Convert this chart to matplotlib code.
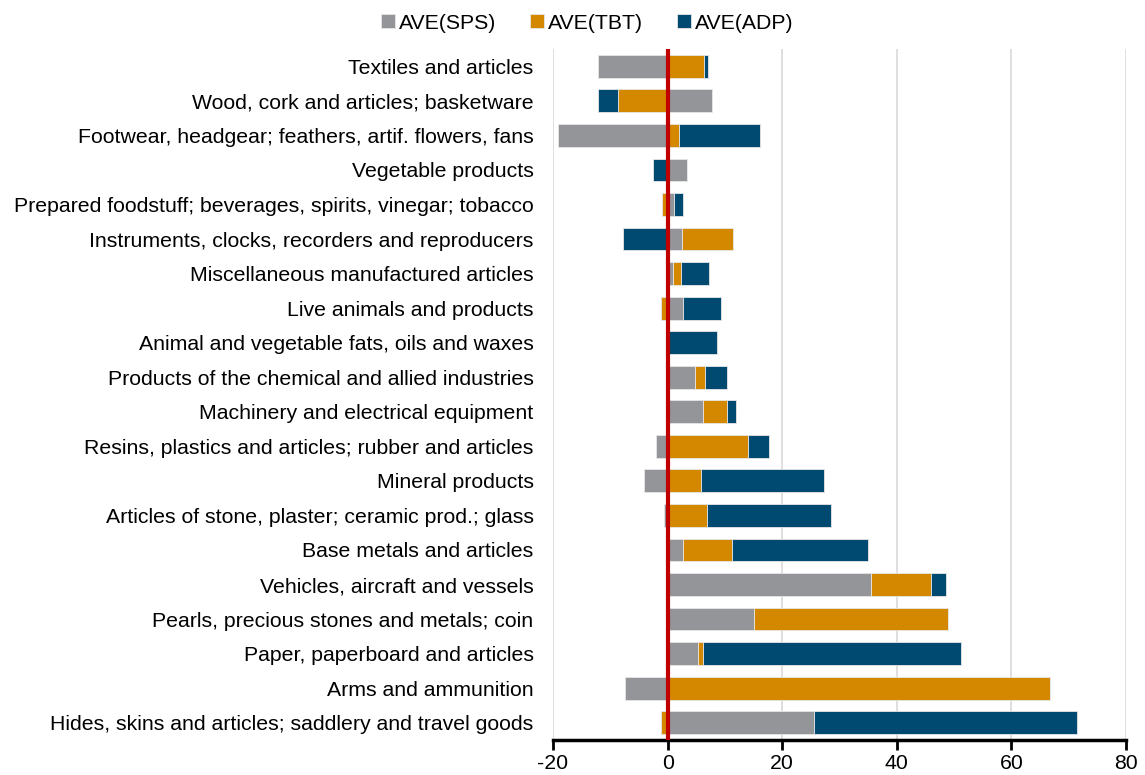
import numpy as np
import matplotlib.pyplot as plt

plt.rcParams['font.family'] = ['Liberation Sans', 'DejaVu Sans']
plt.rcParams['axes.unicode_minus'] = False

categories = [
    'Textiles and articles',
    'Wood, cork and articles; basketware',
    'Footwear, headgear; feathers, artif. flowers, fans',
    'Vegetable products',
    'Prepared foodstuff; beverages, spirits, vinegar; tobacco',
    'Instruments, clocks, recorders and reproducers',
    'Miscellaneous manufactured articles',
    'Live animals and products',
    'Animal and vegetable fats, oils and waxes',
    'Products of the chemical and allied industries',
    'Machinery and electrical equipment',
    'Resins, plastics and articles; rubber and articles',
    'Mineral products',
    'Articles of stone, plaster; ceramic prod.; glass',
    'Base metals and articles',
    'Vehicles, aircraft and vessels',
    'Pearls, precious stones and metals; coin',
    'Paper, paperboard and articles',
    'Arms and ammunition',
    'Hides, skins and articles; saddlery and travel goods',
]

sps = [-12.1, 7.8, -19.1, 3.3, 1.1, 2.6, 1.0, 2.7, 0.0, 4.8,
       6.2, -2.0, -4.1, -0.6, 2.7, 35.5, 15.0, 5.3, -7.5, 25.5]
tbt = [6.4, -8.6, 2.0, 0.0, -0.9, 8.8, 1.4, -1.1, 0.0, 1.7,
       4.2, 14.0, 5.9, 6.8, 8.5, 10.4, 34.0, 0.8, 66.7, -1.2]
adp = [0.7, -3.6, 14.2, -2.6, 1.6, -7.8, 4.9, 6.7, 8.7, 3.8,
       1.5, 3.7, 21.4, 21.8, 23.8, 2.6, 0.0, 45.1, 0.0, 45.9]

series = [('AVE(SPS)', sps, '#939598'),
          ('AVE(TBT)', tbt, '#D48800'),
          ('AVE(ADP)', adp, '#004A71')]

fig = plt.figure(figsize=(11.45, 7.75), dpi=100)
ax = fig.add_axes([553 / 1145, 35 / 775, 573 / 1145, 691 / 775])

y = np.arange(len(categories))
pos_base = np.zeros(len(categories))
neg_base = np.zeros(len(categories))
for name, vals, col in series:
    v = np.array(vals)
    left = np.where(v >= 0, pos_base, neg_base)
    ax.barh(y, v, left=left, height=0.66, color=col, edgecolor='#e6e6e6',
            linewidth=0.6, label=name, zorder=2)
    pos_base = pos_base + np.where(v >= 0, v, 0)
    neg_base = neg_base + np.where(v < 0, v, 0)

ax.axvline(0, color='#C00000', linewidth=3, zorder=3)

ax.set_xlim(-20, 80)
ax.set_xticks([-20, 0, 20, 40, 60, 80])
ax.set_ylim(len(categories) - 0.5, -0.5)
ax.set_yticks(y)
ax.set_yticklabels(categories, fontsize=15.3)
ax.tick_params(axis='y', length=0, pad=14)
ax.tick_params(axis='x', labelsize=15.3, length=7, width=2, direction='out', color='black', pad=3)
ax.grid(axis='x', color='#d9d9d9', linewidth=1.2, zorder=0)
ax.set_axisbelow(True)
for s in ['top', 'right', 'left']:
    ax.spines[s].set_visible(False)
ax.spines['bottom'].set_linewidth(2.5)

fig.legend(loc='upper center', bbox_to_anchor=(0.513, 1.007), ncol=3, frameon=False,
           fontsize=15.3, handlelength=0.65, handleheight=0.65, handletextpad=0.2,
           columnspacing=1.6)

fig.savefig('out.png', dpi=100)
